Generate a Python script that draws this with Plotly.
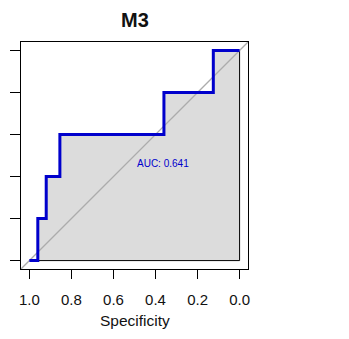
import plotly.graph_objects as go

# ROC points for model M3 (specificity, sensitivity), drawn as a step curve
specificities = [1.0, 0.96, 0.92, 0.855, 0.36, 0.125, 0.0]
sensitivities = [0.0, 0.2, 0.4, 0.6, 0.8, 1.0, 1.0]
auc_label = "AUC: 0.641"
title_text = "M3"
x_title = "Specificity"
tick_values = [1.0, 0.8, 0.6, 0.4, 0.2, 0.0]
tick_labels = ["1.0", "0.8", "0.6", "0.4", "0.2", "0.0"]

# expand the ROC points into horizontal-then-vertical step corners
step_x, step_y = [specificities[0]], [sensitivities[0]]
for i in range(1, len(specificities)):
    step_x += [specificities[i], specificities[i]]
    step_y += [sensitivities[i - 1], sensitivities[i]]

BLUE = "#0000cc"
font_family = "Liberation Sans, Arial, Helvetica, sans-serif"

fig = go.Figure()

# area under the curve, gainsboro with black border
poly_x = step_x + [specificities[-1], specificities[0]]
poly_y = step_y + [0.0, 0.0]
fig.add_trace(go.Scatter(
    x=poly_x, y=poly_y, mode="lines", fill="toself",
    fillcolor="#dcdcdc", line=dict(color="#000000", width=1),
    hoverinfo="skip", showlegend=False,
))

# identity line across the whole plotting region
fig.add_trace(go.Scatter(
    x=[1.1, -0.1], y=[-0.1, 1.1], mode="lines",
    line=dict(color="#acacac", width=1.3),
    hoverinfo="skip", showlegend=False,
))

# ROC curve
fig.add_trace(go.Scatter(
    x=step_x, y=step_y, mode="lines",
    line=dict(color=BLUE, width=3),
    hoverinfo="skip", showlegend=False,
))

fig.add_annotation(
    x=0.5, y=0.5, xref="x", yref="y", text=auc_label, showarrow=False,
    xanchor="left", yanchor="top", font=dict(size=10, color=BLUE, family=font_family),
)
fig.add_annotation(
    x=0.5, y=1, xref="paper", yref="paper", text="<b>" + title_text + "</b>",
    showarrow=False, xanchor="center", yanchor="middle", yshift=22,
    font=dict(size=20, color="#111111", family=font_family),
)
fig.add_annotation(
    x=0.5, y=0, xref="paper", yref="paper", text=x_title,
    showarrow=False, xanchor="center", yanchor="middle", yshift=-51,
    font=dict(size=15.5, color="#111111", family=font_family),
)

fig.update_xaxes(
    range=[1.04, -0.04], tickvals=tick_values, ticktext=tick_labels,
    ticks="outside", ticklen=9, tickwidth=1, tickcolor="#000000",
    showline=True, mirror=True, linecolor="#000000", linewidth=1,
    showgrid=False, zeroline=False, ticklabelstandoff=8,
    tickfont=dict(size=15, color="#111111", family=font_family),
)
fig.update_yaxes(
    range=[-0.04, 1.04], tickvals=[0, 0.2, 0.4, 0.6, 0.8, 1.0],
    ticks="outside", ticklen=10, tickwidth=1, tickcolor="#000000",
    showticklabels=False,
    showline=True, mirror=True, linecolor="#000000", linewidth=1,
    showgrid=False, zeroline=False,
)

fig.update_layout(
    width=349, height=339,
    margin=dict(l=21, r=101, t=42, b=70),
    paper_bgcolor="#ffffff", plot_bgcolor="#ffffff",
    font=dict(family=font_family),
)

fig.write_html("out.html", config={"displayModeBar": False})
